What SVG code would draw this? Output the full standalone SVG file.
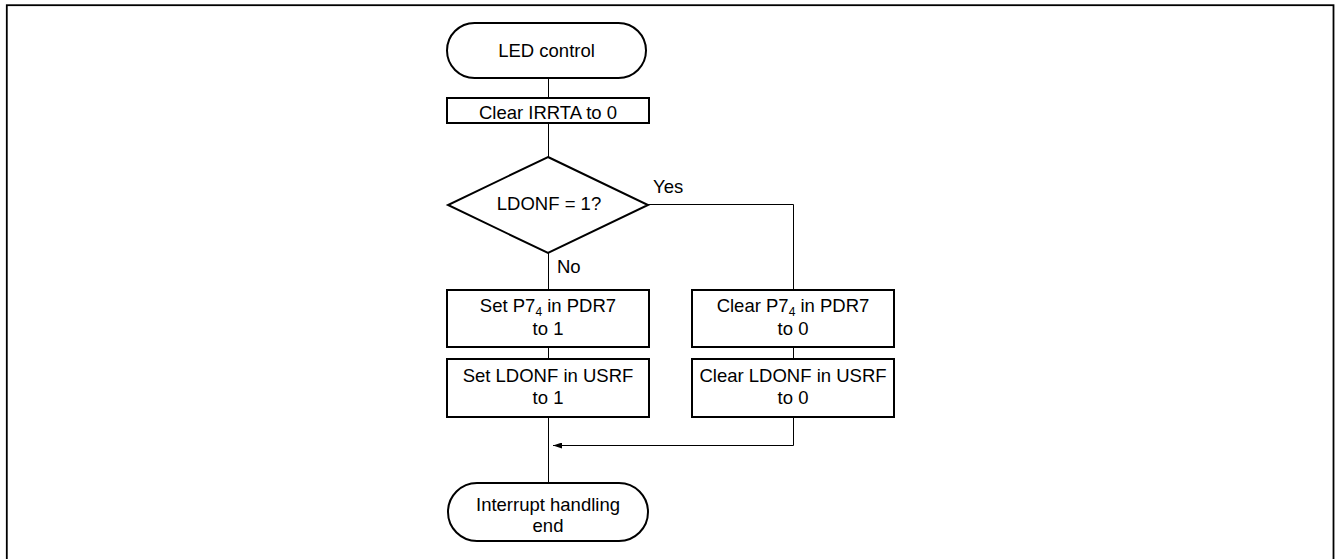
<svg xmlns="http://www.w3.org/2000/svg" width="1337" height="559" viewBox="0 0 1337 559">
<defs>
<style>
.box{fill:#fff;stroke:#000;stroke-width:2}
.ln{fill:none;stroke:#000;stroke-width:1}
text{font-family:"Liberation Sans",Arial,sans-serif;font-size:18.5px;fill:#000}
.c{text-anchor:middle}
.sub{font-size:12px}
</style>
<marker id="arr" markerWidth="9" markerHeight="6" refX="9" refY="3" orient="auto" markerUnits="userSpaceOnUse">
<path d="M0,0 L9,3 L0,6 Z" fill="#000"/>
</marker>
</defs>
<rect x="6.8" y="5.2" width="1326.7" height="600" fill="none" stroke="#000" stroke-width="1.8"/>
<g id="connectors">
<line class="ln" x1="548.5" y1="78" x2="548.5" y2="98"/>
<line class="ln" x1="548.5" y1="123" x2="548.5" y2="157"/>
<line class="ln" x1="548.5" y1="253" x2="548.5" y2="290"/>
<polyline class="ln" points="648,204.5 793.5,204.5 793.5,290"/>
<line class="ln" x1="548.5" y1="347" x2="548.5" y2="359"/>
<line class="ln" x1="793.5" y1="347" x2="793.5" y2="359"/>
<line class="ln" x1="548.5" y1="417" x2="548.5" y2="483"/>
<polyline class="ln" points="793.5,417 793.5,445.5 553,445.5" marker-end="url(#arr)"/>
<text x="653" y="193">Yes</text>
<text x="557" y="273">No</text>
</g>
<g id="start">
<rect class="box" x="447" y="23" width="199" height="55" rx="27.5"/>
<text class="c" x="546.5" y="57">LED control</text>
</g>
<g id="clearIrrta">
<rect class="box" x="447" y="98" width="202" height="25"/>
<text class="c" x="548" y="119">Clear IRRTA to 0</text>
</g>
<g id="decision">
<polygon class="box" points="548,157 648,205 548,253 448,205"/>
<text class="c" x="549" y="210">LDONF = 1?</text>
</g>
<g id="setP74">
<rect class="box" x="447" y="290" width="202" height="57"/>
<text class="c" x="548" y="312">Set P7<tspan class="sub" dy="4">4</tspan><tspan dy="-4"> in PDR7</tspan></text>
<text class="c" x="548" y="335">to 1</text>
</g>
<g id="setLdonf">
<rect class="box" x="447" y="359" width="202" height="58"/>
<text class="c" x="548" y="382">Set LDONF in USRF</text>
<text class="c" x="548" y="404">to 1</text>
</g>
<g id="clearP74">
<rect class="box" x="692" y="290" width="202" height="57"/>
<text class="c" x="793" y="312">Clear P7<tspan class="sub" dy="4">4</tspan><tspan dy="-4"> in PDR7</tspan></text>
<text class="c" x="793" y="335">to 0</text>
</g>
<g id="clearLdonf">
<rect class="box" x="692" y="359" width="202" height="58"/>
<text class="c" x="793" y="382">Clear LDONF in USRF</text>
<text class="c" x="793" y="404">to 0</text>
</g>
<g id="end">
<rect class="box" x="448" y="483" width="200" height="58" rx="29"/>
<text class="c" x="548" y="511">Interrupt handling</text>
<text class="c" x="548" y="532">end</text>
</g>
</svg>
